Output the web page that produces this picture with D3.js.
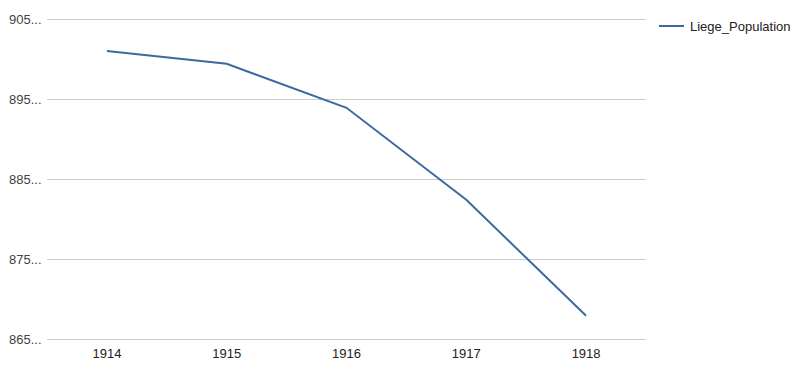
<!DOCTYPE html>
<html>
<head>
<meta charset="utf-8">
<script src="https://cdn.jsdelivr.net/npm/d3@7"></script>
<style>
  body { margin: 0; background: #fff; }
  svg { font-family: "Liberation Sans", Arial, sans-serif; }
</style>
</head>
<body>
<svg id="chart" width="801" height="379"></svg>
<script>
// data
var years = ["1914", "1915", "1916", "1917", "1918"];
var population = [901000, 899400, 893900, 882400, 867900];
var yTicks = [865000, 875000, 885000, 895000, 905000];
var yTickLabels = ["865...", "875...", "885...", "895...", "905..."];
var seriesName = "Liege_Population";

var svg = d3.select("#chart");
// plot box (note: "top" is a reserved window prop, don't use it)
var plotLeft = 47, plotRight = 646, plotTop = 19, plotBottom = 339;
var lineColor = "#3c6a9f";
var fontSize = 13;

var x = d3.scaleBand().domain(years).range([plotLeft, plotRight]);
var y = d3.scaleLinear().domain([865000, 905000]).range([plotBottom, plotTop]);

// gridlines
svg.append("g")
    .selectAll("line")
    .data(yTicks)
    .join("line")
    .attr("x1", plotLeft)
    .attr("x2", plotRight)
    .attr("y1", function (d) { return Math.round(y(d)) + 0.5; })
    .attr("y2", function (d) { return Math.round(y(d)) + 0.5; })
    .attr("stroke", "#cccccc")
    .attr("stroke-width", 1);

// y labels
svg.append("g")
    .selectAll("text")
    .data(yTicks)
    .join("text")
    .attr("x", 9)
    .attr("y", function (d) { return y(d) + 5; })
    .attr("font-size", fontSize)
    .attr("fill", "#444")
    .text(function (d, i) { return yTickLabels[i]; });

// x labels
svg.append("g")
    .selectAll("text")
    .data(years)
    .join("text")
    .attr("x", function (d) { return x(d) + x.bandwidth() / 2; })
    .attr("y", 358)
    .attr("text-anchor", "middle")
    .attr("font-size", fontSize)
    .attr("fill", "#222")
    .text(function (d) { return d; });

// line
var line = d3.line()
    .x(function (d, i) { return x(years[i]) + x.bandwidth() / 2; })
    .y(function (d) { return y(d); });

svg.append("path")
    .datum(population)
    .attr("d", line)
    .attr("fill", "none")
    .attr("stroke", lineColor)
    .attr("stroke-width", 2);

// legend
var legend = svg.append("g").attr("transform", "translate(659,26)");
legend.append("line")
    .attr("x1", 0).attr("x2", 25)
    .attr("y1", 0).attr("y2", 0)
    .attr("stroke", lineColor)
    .attr("stroke-width", 2);
legend.append("text")
    .attr("x", 31)
    .attr("y", 5)
    .attr("font-size", fontSize)
    .attr("fill", "#222")
    .text(seriesName);
</script>
</body>
</html>
